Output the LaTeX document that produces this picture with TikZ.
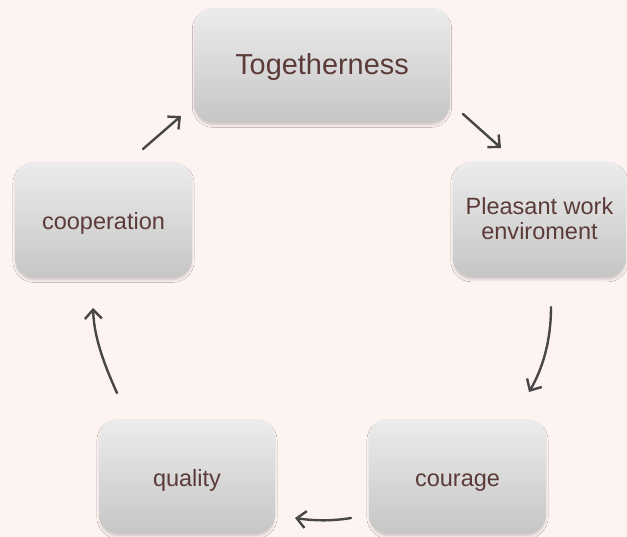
\documentclass[tikz,border=0pt]{standalone}
\usepackage{fontspec}
\setmainfont{Liberation Sans}
\usetikzlibrary{arrows.meta,shadows.blur}
\definecolor{bgpink}{HTML}{FDF4F2}
\definecolor{boxtop}{HTML}{ECECEC}
\definecolor{boxbot}{HTML}{C6C6C6}
\definecolor{txtbrown}{HTML}{5B3B37}
\definecolor{arrowgray}{HTML}{474747}
\tikzset{
  cyclebox/.style={rounded corners=18bp, top color=boxtop, bottom color=boxbot,
    draw=none, text=txtbrown, align=center, inner sep=0pt,
    font=\fontsize{23.6}{25}\selectfont,
    blur shadow={shadow xshift=0pt, shadow yshift=-3pt, shadow blur steps=6,
      shadow blur radius=3pt, shadow opacity=22, shadow scale=0.99,
      shadow blur extra rounding=2pt}},
  oneline/.style={text height=24bp, text depth=4bp},
  cyclearrow/.style={draw=arrowgray, line width=2.4bp, line cap=round,
    -{Straight Barb[length=9bp, width=17bp, line width=2.4bp]}}
}
\begin{document}
\begin{tikzpicture}[x=1bp,y=-1bp]
\fill[bgpink] (0,0) rectangle (627,537);
\useasboundingbox (0,0) rectangle (627,537);
\node[cyclebox, oneline, minimum width=256bp, minimum height=114bp,
  font=\fontsize{29}{31}\selectfont] (tog) at (322,65) {Togetherness};
\node[cyclebox, minimum width=173bp, minimum height=115bp] (pls) at (539.5,219) {Pleasant work\\enviroment};
\node[cyclebox, oneline, minimum width=177bp, minimum height=115bp] (coop) at (103.5,219.5) {cooperation};
\node[cyclebox, oneline, minimum width=176bp, minimum height=114bp] (qual) at (187,476) {quality};
\node[cyclebox, oneline, minimum width=177bp, minimum height=114bp] (cour) at (457.5,476) {courage};
\coordinate (a1s) at (143,149); \coordinate (a1e) at (181,116);
\coordinate (a2s) at (463,114); \coordinate (a2e) at (501,148);
\coordinate (a3s) at (551,307); \coordinate (a3e) at (529,392);
\coordinate (a4s) at (351,518); \coordinate (a4e) at (295,518);
\coordinate (a5s) at (117,393); \coordinate (a5e) at (93,308);
\draw[cyclearrow] (a1s) -- (a1e);
\draw[cyclearrow] (a2s) -- (a2e);
\draw[cyclearrow] (a3s) .. controls (551,340) and (543,368) .. (a3e);
\draw[cyclearrow] (a4s) .. controls (330,521.5) and (312,520.5) .. (a4e);
\draw[cyclearrow] (a5s) .. controls (103,362) and (94,336) .. (a5e);
\end{tikzpicture}
\end{document}
